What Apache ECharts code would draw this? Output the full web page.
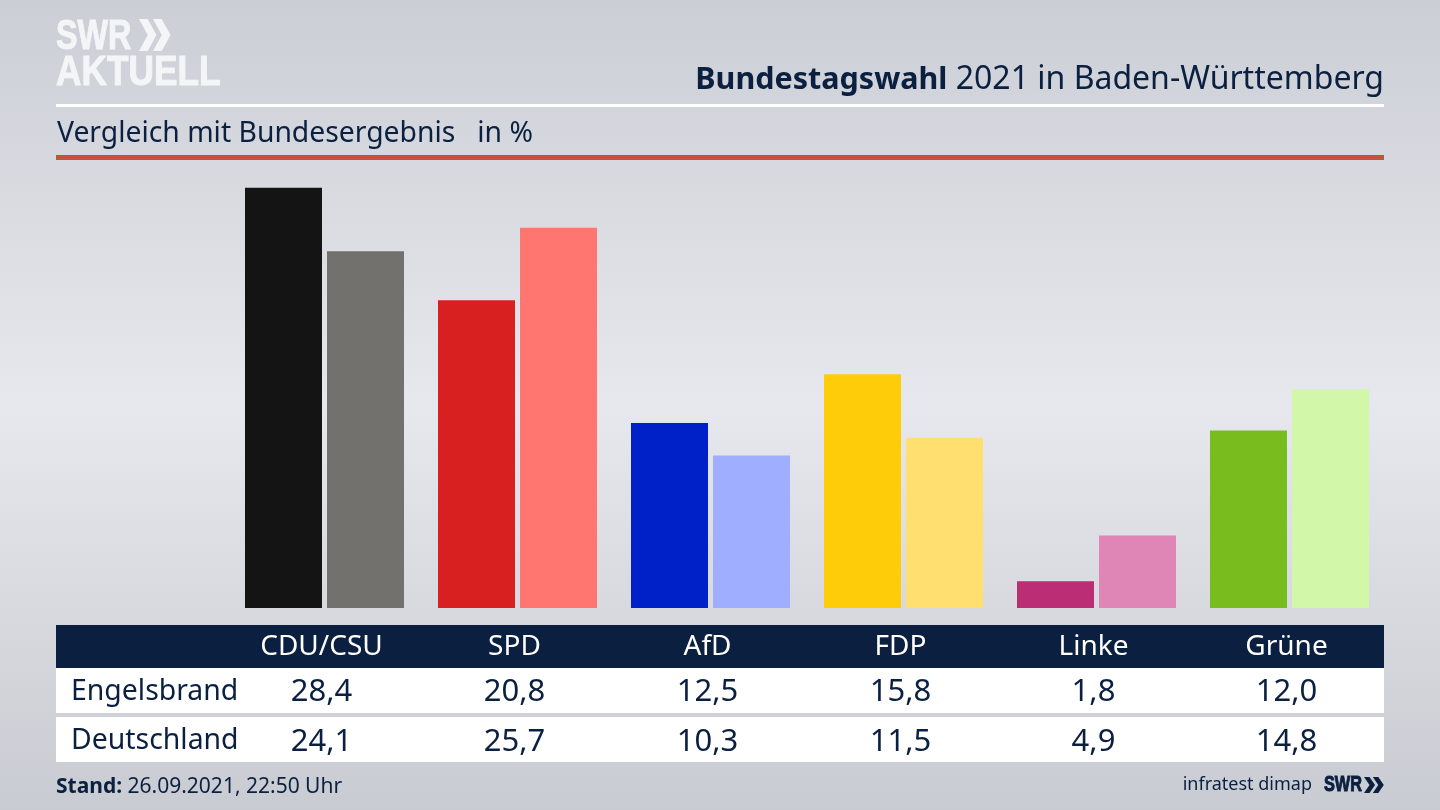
<!DOCTYPE html>
<html>
<head>
<meta charset="utf-8">
<style>html,body{margin:0;padding:0;background:#d8dade}#chart{width:1440px;height:810px}</style>
<script src="https://cdn.jsdelivr.net/npm/echarts@6/dist/echarts.min.js"></script>
</head>
<body>
<div id="chart"></div>
<script>
const parties = ['CDU/CSU', 'SPD', 'AfD', 'FDP', 'Linke', 'Grüne'];
const engelsbrand = [28.4, 20.8, 12.5, 15.8, 1.8, 12.0];
const deutschland = [24.1, 25.7, 10.3, 11.5, 4.9, 14.8];
const engelsbrandColors = ['#141414', '#d7201f', '#0021c8', '#ffcc0a', '#bb2d74', '#78bc1d'];
const deutschlandColors = ['#72716e', '#ff7570', '#a0aeff', '#ffdf70', '#e086b6', '#d3f7a8'];
const rowNames = ['Engelsbrand', 'Deutschland'];

const navy = '#0b2040';
const font = '"Noto Sans", sans-serif';
const logoFont = '"Liberation Sans", sans-serif';
const fmt = v => v.toFixed(1).replace('.', ',');

const chart = echarts.init(document.getElementById('chart'));

function colored(values, colors) {
    return values.map((v, i) => ({value: v, itemStyle: {color: colors[i]}}));
}

chart.setOption({
    animation: false,
    backgroundColor: {
        type: 'linear', x: 0, y: 0, x2: 0, y2: 1,
        colorStops: [
            {offset: 0, color: '#cbced5'},
            {offset: 0.5, color: '#e7e8ed'},
            {offset: 1, color: '#c8cbd1'}
        ]
    },
    title: [
        {
            text: '{b|Bundestagswahl} 2021 in Baden-Württemberg',
            right: 51, top: 59,
            textStyle: {
                color: navy, fontFamily: font, fontWeight: 'normal', fontSize: 32,
                rich: {b: {color: navy, fontFamily: font, fontWeight: 'bold', fontSize: 30.5}}
            }
        },
        {
            text: 'Vergleich mit Bundesergebnis   in %',
            left: 52, top: 115,
            textStyle: {color: navy, fontFamily: font, fontWeight: 'normal', fontSize: 28.3}
        }
    ],
    grid: {left: 228, right: 54, top: 164, bottom: 202},
    xAxis: {type: 'category', data: parties, show: false},
    yAxis: {type: 'value', min: 0, max: 30, show: false},
    series: [
        {type: 'bar', name: rowNames[0], data: colored(engelsbrand, engelsbrandColors), barWidth: 77, barGap: '6.5%'},
        {type: 'bar', name: rowNames[1], data: colored(deutschland, deutschlandColors), barWidth: 77}
    ]
});

// table columns sit slightly left of the bar groups
const colX = parties.map((p, i) => chart.convertToPixel({xAxisIndex: 0}, i) - 3);
const cell = (x, y, text, color, size, align) => ({
    type: 'text', x, y,
    style: {text, fill: color, font: `${size}px ${font}`, align: align || 'center', verticalAlign: 'middle'}
});
const logoText = (x, y, text, size, fill, scaleX) => ({
    type: 'text', x, y, scaleX,
    style: {text, fill, stroke: fill, lineWidth: 1, font: `bold ${size}px ${logoFont}`, verticalAlign: 'middle'}
});
const rect = (x, y, width, height, fill) => ({type: 'rect', shape: {x, y, width, height}, style: {fill}});
const chevrons = (x, y, w, h, fill) => [0, 1].map(k => {
    const x0 = x + k * w * 0.8;
    return {
        type: 'polygon',
        shape: {points: [
            [x0, y], [x0 + w * 0.5, y], [x0 + w, y + h / 2],
            [x0 + w * 0.5, y + h], [x0, y + h], [x0 + w * 0.5, y + h / 2]
        ]},
        style: {fill}
    };
});

chart.setOption({
    graphic: [
        rect(56, 104, 1328, 3, '#ffffff'),
        rect(56, 155, 1328, 5, '#c8503c'),
        rect(56, 625, 1328, 43, navy),
        rect(56, 668, 1328, 45, '#ffffff'),
        rect(56, 717, 1328, 45, '#ffffff'),
        logoText(56, 37, 'SWR', 42, '#f4f5f7', 0.77),
        logoText(56, 73, 'AKTUELL', 42, '#f4f5f7', 0.84),
        ...chevrons(139, 19, 17.5, 32, '#f4f5f7'),
        ...parties.map((p, i) => cell(colX[i], 647, p, '#ffffff', 28)),
        cell(71, 692, rowNames[0], navy, 28.4, 'left'),
        cell(71, 741, rowNames[1], navy, 28.4, 'left'),
        ...engelsbrand.map((v, i) => cell(colX[i], 692, fmt(v), navy, 31)),
        ...deutschland.map((v, i) => cell(colX[i], 742, fmt(v), navy, 31)),
        {type: 'text', x: 56, y: 787, style: {
            text: '{b|Stand:} 26.09.2021, 22:50 Uhr', fill: navy, font: `21px ${font}`, verticalAlign: 'middle',
            rich: {b: {fill: navy, font: `bold 21px ${font}`}}
        }},
        cell(1312, 785, 'infratest dimap', navy, 18, 'right'),
        logoText(1324, 785, 'SWR', 22, navy, 0.74),
        ...chevrons(1364, 777, 11, 16, navy)
    ]
});
</script>
</body>
</html>
